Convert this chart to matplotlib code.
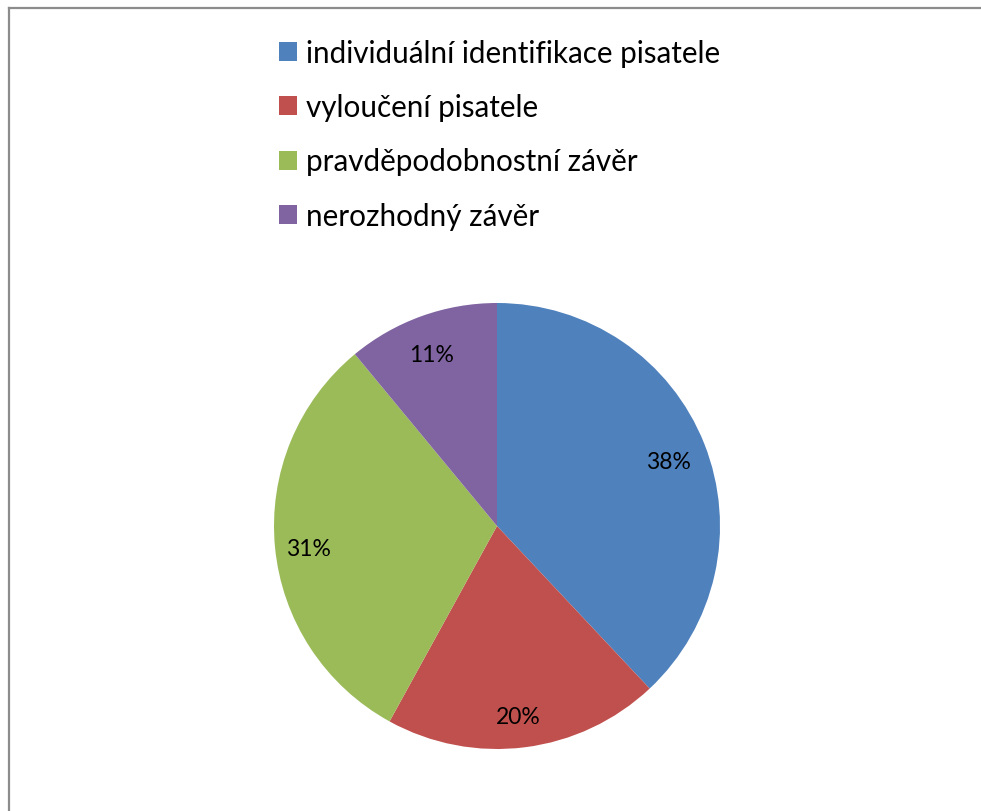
import numpy as np
import matplotlib.pyplot as plt
from matplotlib.patches import Patch
from matplotlib.lines import Line2D

plt.rcParams['font.family'] = ['Lato', 'DejaVu Sans']

labels = ["individuální identifikace pisatele", "vyloučení pisatele",
          "pravděpodobnostní závěr", "nerozhodný závěr"]
values = [38, 20, 31, 11]
colors = ["#4F81BD", "#C0504D", "#9BBB59", "#8064A2"]

W, H = 981, 812
fig = plt.figure(figsize=(W / 100, H / 100), dpi=100)

# outer frame (only top and left edges visible)
fig.add_artist(Line2D([8.5 / W, 1], [1 - 8.5 / H, 1 - 8.5 / H], transform=fig.transFigure,
                      color="#8c8c8c", lw=1.6))
fig.add_artist(Line2D([8.5 / W, 8.5 / W], [0, 1 - 8.5 / H], transform=fig.transFigure,
                      color="#8c8c8c", lw=1.6))

cx, cy, r = 497, 527, 223
ax = fig.add_axes([(cx - r) / W, (H - cy - r) / H, 2 * r / W, 2 * r / H])
wedges, texts, autotexts = ax.pie(values, colors=colors, startangle=90, counterclock=False,
                                  autopct="%d%%", pctdistance=0.84,
                                  textprops=dict(fontsize=16.5, color="black"))
for t in autotexts:
    x, y = t.get_position()
    t.set_position((x - 0.01, y - 0.02))
ax.set_xlim(-1, 1)
ax.set_ylim(-1, 1)
ax.set_aspect("equal")
ax.axis("off")

handles = [Patch(facecolor=c, edgecolor="none") for c in colors]
fig.legend(handles, labels, loc="upper left", bbox_to_anchor=(267 / W, 1 - 28 / H),
           frameon=False, fontsize=21.3, handlelength=0.61, handleheight=0.61,
           handletextpad=0.31, labelspacing=0.89, borderaxespad=0)

fig.savefig("out.png", dpi=100, facecolor="white")
